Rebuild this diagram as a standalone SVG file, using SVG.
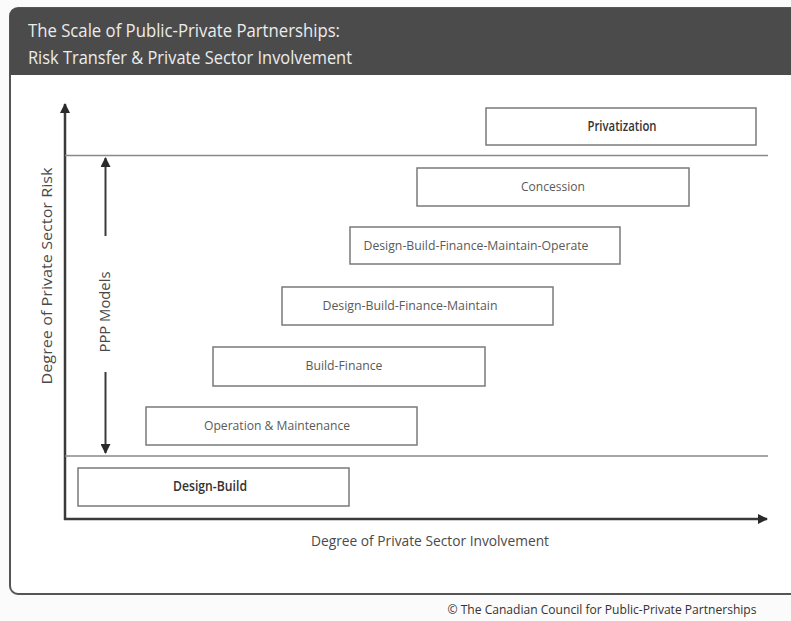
<svg xmlns="http://www.w3.org/2000/svg" width="791" height="621" viewBox="0 0 791 621">
<style>
  .box { fill: #ffffff; stroke: #7a7a7a; stroke-width: 1.5; }
  .lbl { font-family: "Open Sans", "Liberation Sans", sans-serif; font-size: 13.5px; fill: #5a5a5a; text-anchor: middle; }
  .lbl.dark { fill: #333333; font-weight: 600; }
  .axis { stroke: #3a3a3a; stroke-width: 2.5; fill: none; }
  .thin { stroke: #8a8a8a; stroke-width: 1.5; fill: none; }
  .ppp { stroke: #3a3a3a; stroke-width: 2; fill: none; }
  .axlbl { font-family: "Open Sans", "Liberation Sans", sans-serif; font-size: 14.5px; fill: #4a4a4a; }
  .title { font-family: "Open Sans", "Liberation Sans", sans-serif; font-size: 19px; fill: #ececec; }
</style>
<defs>
  <marker id="ah" viewBox="0 0 10 10" refX="9" refY="5" markerWidth="4" markerHeight="4" orient="auto-start-reverse" markerUnits="strokeWidth">
    <path d="M0,0 L10,5 L0,10 z" fill="#2a2a2a"/>
  </marker>
  <marker id="ah2" viewBox="0 0 10 10" refX="9" refY="5" markerWidth="5" markerHeight="5" orient="auto-start-reverse" markerUnits="strokeWidth">
    <path d="M0,0 L10,5 L0,10 z" fill="#2a2a2a"/>
  </marker>
</defs>
<rect x="0" y="0" width="791" height="621" fill="#fbfbfb"/>
<g id="frame">
  <rect x="10" y="8" width="800" height="586" rx="8" ry="8" fill="#ffffff" stroke="#555555" stroke-width="2"/>
  <path d="M10,75 L10,16 Q10,8 18,8 L810,8 L810,75 Z" fill="#4b4b4b"/>
  <text class="title" x="28" y="37" textLength="312" lengthAdjust="spacingAndGlyphs">The Scale of Public-Private Partnerships:</text>
  <text class="title" x="28" y="64" textLength="324" lengthAdjust="spacingAndGlyphs">Risk Transfer &amp; Private Sector Involvement</text>
</g>
<g id="connectors">
  <line class="axis" x1="65" y1="520" x2="65" y2="104" marker-end="url(#ah)"/>
  <line class="axis" x1="64" y1="519" x2="767" y2="519" marker-end="url(#ah)"/>
  <line class="thin" x1="65" y1="155.5" x2="768" y2="155.5"/>
  <line class="thin" x1="65" y1="456" x2="768" y2="456"/>
  <line class="ppp" x1="105.5" y1="236" x2="105.5" y2="158" marker-end="url(#ah2)"/>
  <line class="ppp" x1="105.5" y1="372" x2="105.5" y2="453" marker-end="url(#ah2)"/>
</g>
<g id="axis-labels">
  <text class="axlbl" transform="translate(52,276) rotate(-90)" text-anchor="middle" textLength="217" lengthAdjust="spacingAndGlyphs">Degree of Private Sector Risk</text>
  <text class="axlbl" transform="translate(110,312) rotate(-90)" text-anchor="middle" font-size="13.5" textLength="81" lengthAdjust="spacingAndGlyphs">PPP Models</text>
  <text class="axlbl" x="430" y="546" text-anchor="middle" textLength="238" lengthAdjust="spacingAndGlyphs">Degree of Private Sector Involvement</text>
</g>
<g id="privatization">
  <rect class="box" x="486" y="108" width="270" height="37"/>
  <text class="lbl dark" x="622" y="131" textLength="69" lengthAdjust="spacingAndGlyphs">Privatization</text>
</g>
<g id="concession">
  <rect class="box" x="417" y="168" width="272" height="38"/>
  <text class="lbl" x="553" y="191" textLength="64" lengthAdjust="spacingAndGlyphs">Concession</text>
</g>
<g id="dbfmo">
  <rect class="box" x="350" y="227" width="270" height="37"/>
  <text class="lbl" x="476" y="250" textLength="225" lengthAdjust="spacingAndGlyphs">Design-Build-Finance-Maintain-Operate</text>
</g>
<g id="dbfm">
  <rect class="box" x="282" y="287" width="271" height="38"/>
  <text class="lbl" x="410" y="310" textLength="175" lengthAdjust="spacingAndGlyphs">Design-Build-Finance-Maintain</text>
</g>
<g id="build-finance">
  <rect class="box" x="213" y="347" width="272" height="39"/>
  <text class="lbl" x="344" y="370" textLength="77" lengthAdjust="spacingAndGlyphs">Build-Finance</text>
</g>
<g id="operation-maintenance">
  <rect class="box" x="146" y="407" width="271" height="38"/>
  <text class="lbl" x="277" y="430" textLength="146" lengthAdjust="spacingAndGlyphs">Operation &amp; Maintenance</text>
</g>
<g id="design-build">
  <rect class="box" x="78" y="468" width="271" height="38"/>
  <text class="lbl dark" x="210" y="491" textLength="74" lengthAdjust="spacingAndGlyphs">Design-Build</text>
</g>
<g id="footer">
  <text x="602" y="614" text-anchor="middle" font-family="'Open Sans', 'Liberation Sans', sans-serif" font-size="13" fill="#333333" textLength="309" lengthAdjust="spacingAndGlyphs">© The Canadian Council for Public-Private Partnerships</text>
</g>
</svg>
